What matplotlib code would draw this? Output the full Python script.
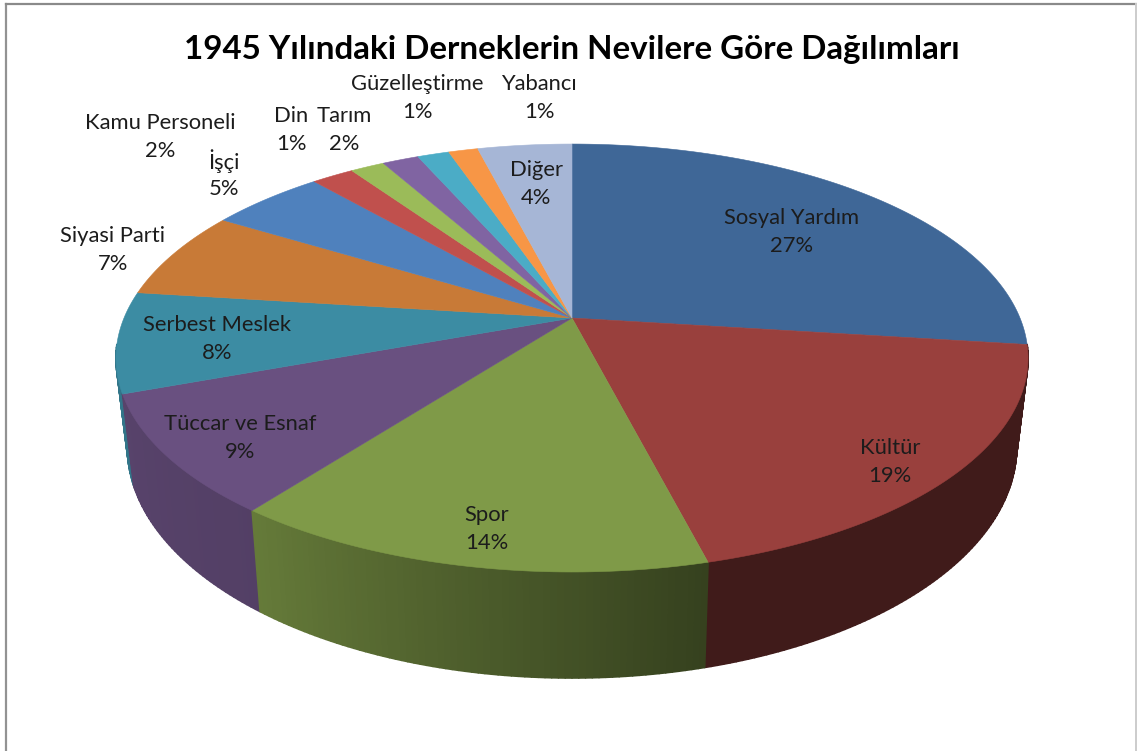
import numpy as np
import matplotlib
matplotlib.use("Agg")
import matplotlib.pyplot as plt
from matplotlib.collections import PolyCollection

title = "1945 Yılındaki Derneklerin Nevilere Göre Dağılımları"
categories = ["Sosyal Yardım", "Kültür", "Spor", "Tüccar ve Esnaf", "Serbest Meslek",
              "Siyasi Parti", "İşçi", "Kamu Personeli", "Din", "Tarım",
              "Güzelleştirme", "Yabancı", "Diğer"]
values = [27.0, 19.0, 14.4, 9.0, 7.6, 6.7, 4.9, 1.8, 1.45, 1.55, 1.35, 1.25, 4.0]
colors = ["#3f6797", "#99403d", "#7f9a48", "#695080", "#3c8ca3", "#c87a37", "#4f81bd",
          "#c0504d", "#9bbb59", "#8064a2", "#4bacc6", "#f79646", "#a6b6d6"]

# label centres in pixels, same order as categories
label_x = [792, 890, 487, 240, 217, 113, 224, 160, 291, 344, 417, 539, 536]
label_y = [232, 462, 529, 438, 339, 250, 175, 137, 130, 130, 98, 98, 184]

# pie geometry in pixels (perspective view of a disc)
cx, cy = 572, 318
a, b, k = 448, 206.5, 0.187
x_shrink = 0.975


def rim(theta):
    u, v = np.sin(theta), -np.cos(theta)
    w = 1 - k * v
    return cx + a * u / w, cy + b * v / w


def lower(x, y):
    depth = 106 - (572 - y) * 0.08
    return cx + (x - cx) * x_shrink, y + depth


def wall_shade(frac):
    return np.interp(frac, [0.0, 0.46, 0.60, 0.70, 1.0], [0.42, 0.42, 0.79, 0.84, 0.84])


plt.rcParams["font.family"] = ["Lato", "DejaVu Sans"]
fig = plt.figure(figsize=(11.37, 7.51), dpi=100)
ax = fig.add_axes([0, 0, 1, 1])
ax.set_xlim(0, 1137)
ax.set_ylim(751, 0)
ax.axis("off")

# chart frame
ax.plot([6, 6], [751, 4], color="#929292", lw=1.6)
ax.plot([6, 1136], [4, 4], color="#8a8a8a", lw=1.6)
ax.plot([1136, 1136], [4, 751], color="#cccccc", lw=1.4)

edges = np.concatenate([[0], np.cumsum(values)]) / np.sum(values)

# side wall first, back to front; the back part is hidden anyway
quads = []
for i, col in enumerate(colors):
    base = np.array(matplotlib.colors.to_rgb(col))
    n = max(3, int(values[i] * 5))
    t = np.linspace(edges[i], edges[i + 1], n + 1)
    for t0, t1 in zip(t[:-1], t[1:]):
        x0, y0 = rim(t0 * 2 * np.pi)
        x1, y1 = rim(t1 * 2 * np.pi)
        if (y0 + y1) / 2 < 345:
            continue
        bx0, by0 = lower(x0, y0)
        bx1, by1 = lower(x1, y1)
        shade = wall_shade((t0 + t1) / 2)
        quads.append(((y0 + y1) / 2, [(x0, y0), (x1, y1), (bx1, by1), (bx0, by0)], base * shade))
quads.sort(key=lambda q: q[0])
walls = PolyCollection([q[1] for q in quads], facecolors=[q[2] for q in quads],
                       edgecolors=[q[2] for q in quads], linewidths=1.2)
ax.add_collection(walls)

# top face
for i, col in enumerate(colors):
    t = np.linspace(edges[i], edges[i + 1], max(4, int(values[i] * 6)) + 1) * 2 * np.pi
    xs, ys = rim(t)
    ax.fill(np.r_[cx, xs], np.r_[cy, ys], facecolor=col, edgecolor=col, lw=0.4)

# labels, name and percent as separate lines
for name, val, x, y in zip(categories, values, label_x, label_y):
    ax.text(x, y - 14, name, ha="center", va="center", fontsize=15.8, color="#1c1c1c")
    ax.text(x, y + 14, f"{round(val)}%", ha="center", va="center", fontsize=15.8, color="#1c1c1c")

ax.text(572, 50, title, ha="center", va="center", fontsize=23.85, fontweight="bold", color="black")

fig.savefig("out.png", dpi=100)
